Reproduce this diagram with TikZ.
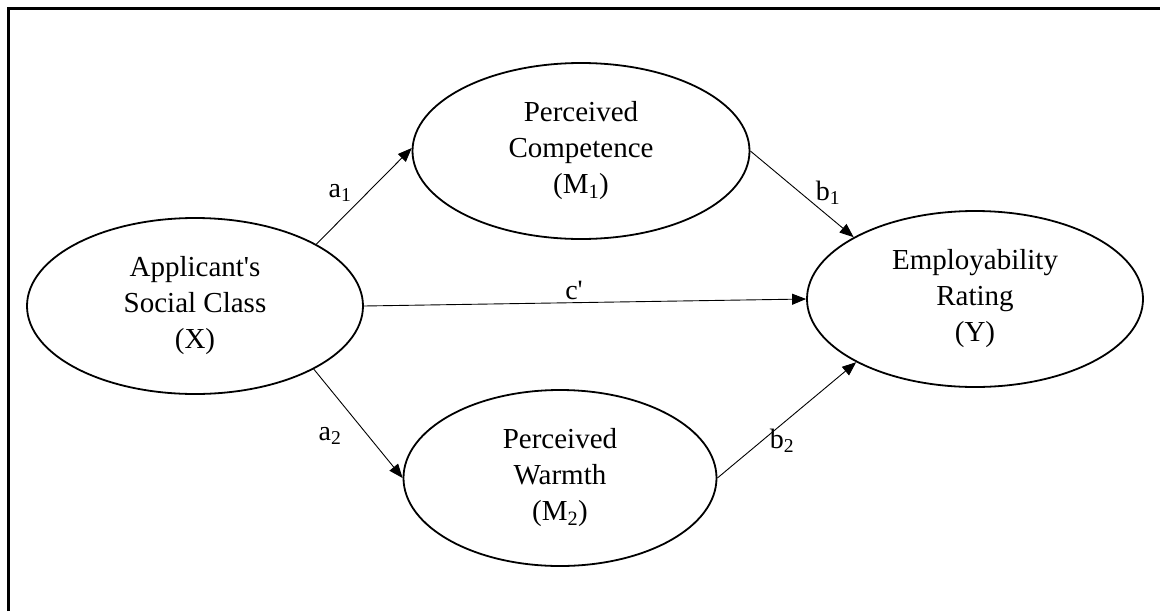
\documentclass[tikz,border=0pt]{standalone}
\usepackage{fontspec}
\setmainfont{Liberation Serif}[Ligatures=TeXOff]
\usetikzlibrary{shapes.geometric,arrows.meta}
\tikzset{
  latent/.style={ellipse, draw, line width=1.8pt, inner sep=0pt, align=center,
    font=\fontsize{29}{36}\selectfont},
  path/.style={line width=0.9pt, -{Triangle[length=14pt,width=11pt]}},
  plabel/.style={font=\fontsize{28}{30}\selectfont, inner sep=0pt},
  frameline/.style={line width=2.6pt}
}
\begin{document}
\begin{tikzpicture}[x=1pt,y=-1pt]
\useasboundingbox (0,0) rectangle (1160,611);
\coordinate (fbl) at (8.5,611);
\coordinate (ftl) at (8.5,8.5);
\coordinate (ftr) at (1160,8.5);
\draw[frameline] (fbl) -- (ftl) -- (ftr);

\node[latent, minimum width=336pt, minimum height=176pt] (X) at (195,306) {Applicant's\\Social Class\\(X)};
\node[latent, minimum width=337pt, minimum height=176pt] (M1) at (581,151) {Perceived\\Competence\\(M\textsubscript{1})};
\node[latent, minimum width=313pt, minimum height=176pt] (M2) at (560,478) {Perceived\\Warmth\\(M\textsubscript{2})};
\node[latent, minimum width=336pt, minimum height=176pt] (Y) at (975,299) {Employability\\Rating\\(Y)};

\draw[path] (X.27.5) -- (M1.179);
\draw[path] (M1.0) -- (Y.153);
\draw[path] (X.east) -- (Y.west);
\draw[path] (X.332) -- (M2.180);
\draw[path] (M2.0) -- (Y.208.8);

\node[plabel] (la1) at (340,193) {a\textsubscript{1}};
\node[plabel] (lb1) at (828,193) {b\textsubscript{1}};
\node[plabel] (lc) at (574,290) {c'};
\node[plabel] (la2) at (330,436) {a\textsubscript{2}};
\node[plabel] (lb2) at (782,441) {b\textsubscript{2}};
\end{tikzpicture}
\end{document}
